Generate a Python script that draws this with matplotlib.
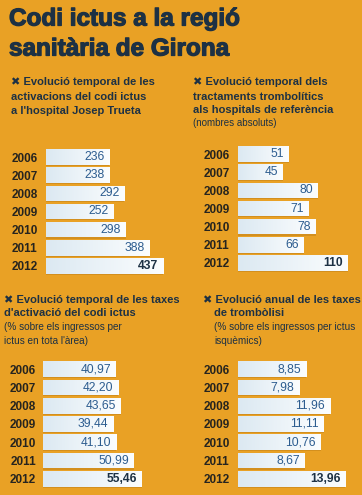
import numpy as np
import matplotlib
matplotlib.use("Agg")
import matplotlib.pyplot as plt
import matplotlib.patheffects as pe
from matplotlib.colors import LinearSegmentedColormap

# --- data ---------------------------------------------------------------------------
years = ["2006", "2007", "2008", "2009", "2010", "2011", "2012"]
activacions = [236, 238, 292, 252, 298, 388, 437]
trombolitics = [51, 45, 80, 71, 78, 66, 110]
taxes_activacio = [40.97, 42.20, 43.65, 39.44, 41.10, 50.99, 55.46]
taxes_trombolisi = [8.85, 7.98, 11.96, 11.11, 10.76, 8.67, 13.96]

BG = "#E9A125"
NAVY = "#1D3144"
YEARC = "#26241F"
VALC = "#2C5C8F"
SANS = ["Liberation Sans", "DejaVu Sans"]
W, H = 362, 495

bar_cmap = LinearSegmentedColormap.from_list("bar", ["#DCE9F2", "#FBFDFE"])

fig = plt.figure(figsize=(W / 100, H / 100), dpi=100)
fig.patch.set_facecolor(BG)


def ptext(x, y, s, size, weight="bold", color=NAVY, stroke=0.0):
    t = fig.text(x / W, 1 - y / H, s, fontsize=size, fontweight=weight, color=color,
                 family=SANS, ha="left", va="center")
    if stroke:
        t.set_path_effects([pe.withStroke(linewidth=stroke, foreground=color)])


def panel(left, top, width, height, values, labels, xmax, pad):
    ax = fig.add_axes([left / W, 1 - (top + height) / H, width / W, height / H])
    ax.set_facecolor("none")
    y = np.arange(len(values))
    # faint shadow + gradient bars
    ax.barh(y + 0.06, values, height=0.86, color="#D38F1E", zorder=1)
    bars = ax.barh(y, values, height=0.86, color="white", zorder=2)
    grad = np.linspace(0, 1, 64).reshape(1, -1)
    for b in bars:
        im = ax.imshow(grad, extent=[0, b.get_width(), b.get_y() + b.get_height(), b.get_y()],
                       cmap=bar_cmap, aspect="auto", zorder=3)
        im.set_clip_path(b)
    for i, (v, lab) in enumerate(zip(values, labels)):
        last = i == len(values) - 1
        ax.annotate(lab, (v, i), xytext=(-3.5, 0), textcoords="offset points",
                    ha="right", va="center", zorder=4,
                    fontsize=8.7, family=SANS,
                    fontweight="bold" if last else "normal",
                    color=NAVY if last else VALC)
    ax.set_xlim(0, xmax)
    ax.set_ylim(len(values) - 0.5, -0.5)
    ax.set_yticks(y, years)
    ax.tick_params(axis="y", length=0, pad=pad, labelsize=8.5, labelcolor=YEARC)
    for t in ax.get_yticklabels():
        t.set_fontweight("bold")
        t.set_family(SANS)
    ax.set_xticks([])
    for s in ax.spines.values():
        s.set_visible(False)
    return ax


# --- title --------------------------------------------------------------------------
ptext(9, 19, "Codi ictus a la regió", 17.5, stroke=0.9)
ptext(9, 49, "sanitària de Girona", 17.5, stroke=0.9)

# --- panel headers ------------------------------------------------------------------
ptext(11, 82, "✖ Evolució temporal de les", 8)
ptext(11, 97, "activacions del codi ictus", 8)
ptext(11, 111, "a l'hospital Josep Trueta", 8)

ptext(193, 82, "✖ Evolució temporal dels", 8)
ptext(193, 97, "tractaments trombolítics", 8)
ptext(193, 110, "als hospitals de referència", 8)
ptext(193, 123, "(nombres absoluts)", 7, weight="normal")

ptext(4, 300, "✖ Evolució temporal de les taxes", 8)
ptext(4, 313, "d'activació del codi ictus", 8)
ptext(4, 327, "(% sobre els ingressos per", 7.2, weight="normal")
ptext(4, 341, "ictus en tota l'àrea)", 7.2, weight="normal")

ptext(203, 300, "✖ Evolució anual de les taxes", 8)
ptext(214, 313, "de trombòlisi", 8)
ptext(214, 327, "(% sobre els ingressos per ictus", 7.2, weight="normal")
ptext(214, 341, "isquèmics)", 7.2, weight="normal")

# --- bar panels ---------------------------------------------------------------------
fmt = lambda v: f"{v:.2f}".replace(".", ",")
panel(46, 148, 125, 127, activacions, [str(v) for v in activacions], 125 / 0.268, 6)
panel(238, 145, 120, 127, trombolitics, [str(v) for v in trombolitics], 120 / 1.0, 6)
panel(43, 360, 130, 128, taxes_activacio, [fmt(v) for v in taxes_activacio], 130 / 1.78, 5)
panel(238, 360, 120, 128, taxes_trombolisi, [fmt(v) for v in taxes_trombolisi], 120 / 7.7, 6)

fig.savefig("out.png", dpi=100, facecolor=BG)
